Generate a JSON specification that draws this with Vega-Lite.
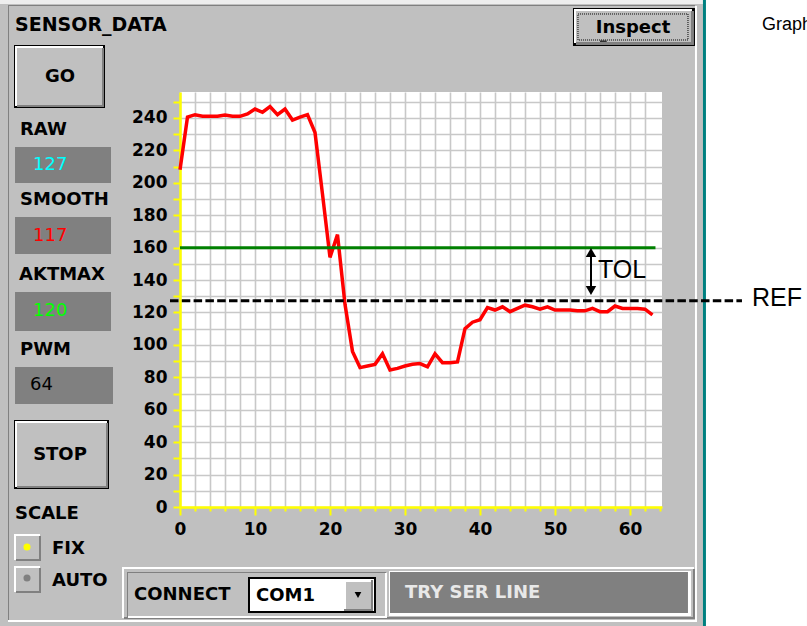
{
  "$schema": "https://vega.github.io/schema/vega-lite/v6.json",
  "width": 482,
  "height": 415,
  "autosize": {"type": "none"},
  "padding": {"left": 180, "top": 92, "right": 145, "bottom": 119},
  "background": "#c0c0c0",
  "config": {
    "view": {"fill": "#ffffff", "stroke": null}
  },
  "resolve": {"scale": {"color": "independent", "shape": "independent"}},
  "datasets": {
    "sensor": [
      {"sample": 0, "value": 208}, {"sample": 1, "value": 240.5}, {"sample": 2, "value": 242},
      {"sample": 3, "value": 241}, {"sample": 4, "value": 241}, {"sample": 5, "value": 241},
      {"sample": 6, "value": 241.8}, {"sample": 7, "value": 241}, {"sample": 8, "value": 241},
      {"sample": 9, "value": 242.5}, {"sample": 10, "value": 245.5}, {"sample": 11, "value": 243.5},
      {"sample": 12, "value": 247}, {"sample": 13, "value": 242}, {"sample": 14, "value": 245.5},
      {"sample": 15, "value": 238.7}, {"sample": 16, "value": 240.5}, {"sample": 17, "value": 242},
      {"sample": 18, "value": 231}, {"sample": 19, "value": 193}, {"sample": 20, "value": 154},
      {"sample": 21, "value": 168}, {"sample": 22, "value": 125}, {"sample": 23, "value": 96},
      {"sample": 24, "value": 86}, {"sample": 25, "value": 87}, {"sample": 26, "value": 88},
      {"sample": 27, "value": 94.5}, {"sample": 28, "value": 84.5}, {"sample": 29, "value": 85.5},
      {"sample": 30, "value": 87}, {"sample": 31, "value": 88}, {"sample": 32, "value": 88.5},
      {"sample": 33, "value": 86.5}, {"sample": 34, "value": 94.5}, {"sample": 35, "value": 89},
      {"sample": 36, "value": 89}, {"sample": 37, "value": 89.5}, {"sample": 38, "value": 110},
      {"sample": 39, "value": 114}, {"sample": 40, "value": 115.5}, {"sample": 41, "value": 123},
      {"sample": 42, "value": 121.5}, {"sample": 43, "value": 123.5}, {"sample": 44, "value": 120.5},
      {"sample": 45, "value": 122.5}, {"sample": 46, "value": 124.5}, {"sample": 47, "value": 123.5},
      {"sample": 48, "value": 122}, {"sample": 49, "value": 123.5}, {"sample": 50, "value": 121.5},
      {"sample": 51, "value": 121.5}, {"sample": 52, "value": 121.5}, {"sample": 53, "value": 121},
      {"sample": 54, "value": 121}, {"sample": 55, "value": 122.5}, {"sample": 56, "value": 120.5},
      {"sample": 57, "value": 120.5}, {"sample": 58, "value": 124}, {"sample": 59, "value": 122.5},
      {"sample": 60, "value": 122.5}, {"sample": 61, "value": 122.5}, {"sample": 62, "value": 122},
      {"sample": 63, "value": 118.5}
    ],
    "panels": [
      {"x": -24, "x2": 69.733, "y": 312.75, "y2": 310.28, "part": "light"},
      {"x": 69.733, "x2": 70.133, "y": 312.75, "y2": -73.41, "part": "teal"},
      {"x": 70.133, "x2": 83.6, "y": 312.75, "y2": -73.41, "part": "white"},
      {"x": -22.933, "x2": -22.8, "y": 309.05, "y2": -70.32, "part": "shadow"},
      {"x": -22.933, "x2": 68.667, "y": 309.67, "y2": 309.05, "part": "shadow"},
      {"x": 68.667, "x2": 68.933, "y": 309.05, "y2": -70.94, "part": "white"},
      {"x": -22.933, "x2": 68.933, "y": -69.71, "y2": -70.94, "part": "white"},
      {"x": -22.133, "x2": -10.0, "y": 285.0, "y2": 246.13, "part": "black"},
      {"x": -22.0, "x2": -10.267, "y": 284.38, "y2": 247.36, "part": "white"},
      {"x": -21.733, "x2": -10.133, "y": 283.14, "y2": 246.75, "part": "shadow"},
      {"x": -21.733, "x2": -10.4, "y": 283.14, "y2": 247.98, "part": "face"},
      {"x": -22, "x2": -9.2, "y": 222.07, "y2": 199.86, "part": "box"},
      {"x": -22, "x2": -9.2, "y": 178.89, "y2": 156.07, "part": "box"},
      {"x": -22, "x2": -9.2, "y": 132.63, "y2": 108.57, "part": "box"},
      {"x": -22, "x2": -8.933, "y": 86.36, "y2": 63.54, "part": "box"},
      {"x": -22.133, "x2": -9.467, "y": 53.67, "y2": 11.10, "part": "black"},
      {"x": -22.0, "x2": -9.733, "y": 53.05, "y2": 12.34, "part": "white"},
      {"x": -21.733, "x2": -9.6, "y": 51.82, "y2": 11.72, "part": "shadow"},
      {"x": -21.733, "x2": -9.867, "y": 51.82, "y2": 12.95, "part": "face"},
      {"x": -22.133, "x2": -18.667, "y": -16.66, "y2": -32.69, "part": "white"},
      {"x": -21.867, "x2": -18.533, "y": -17.89, "y2": -33.31, "part": "shadow"},
      {"x": -21.867, "x2": -18.8, "y": -17.89, "y2": -32.08, "part": "face"},
      {"x": -22.133, "x2": -18.667, "y": -36.40, "y2": -52.43, "part": "white"},
      {"x": -21.867, "x2": -18.533, "y": -37.63, "y2": -53.05, "part": "shadow"},
      {"x": -21.867, "x2": -18.8, "y": -37.63, "y2": -51.82, "part": "face"},
      {"x": -7.733, "x2": 68.533, "y": -37.01, "y2": -68.47, "part": "white"},
      {"x": -7.467, "x2": 68.667, "y": -38.25, "y2": -69.09, "part": "shadow"},
      {"x": -7.467, "x2": 68.4, "y": -38.25, "y2": -67.85, "part": "face"},
      {"x": -7.067, "x2": 27.467, "y": -40.10, "y2": -67.85, "part": "shadow"},
      {"x": -6.933, "x2": 27.6, "y": -40.71, "y2": -68.47, "part": "white"},
      {"x": -6.933, "x2": 27.333, "y": -40.71, "y2": -67.24, "part": "face"},
      {"x": 27.867, "x2": 68.133, "y": -39.48, "y2": -67.24, "part": "white"},
      {"x": 28.0, "x2": 67.733, "y": -40.10, "y2": -65.39, "part": "box"},
      {"x": 9.067, "x2": 26.133, "y": -43.18, "y2": -65.39, "part": "black"},
      {"x": 9.333, "x2": 25.867, "y": -44.41, "y2": -64.15, "part": "white"},
      {"x": 21.867, "x2": 25.733, "y": -45.03, "y2": -64.15, "part": "shadow"},
      {"x": 21.867, "x2": 25.467, "y": -45.03, "y2": -62.92, "part": "white"},
      {"x": 22.133, "x2": 25.467, "y": -46.26, "y2": -62.92, "part": "face"},
      {"x": 52.4, "x2": 68.667, "y": 307.82, "y2": 284.38, "part": "black"},
      {"x": 52.533, "x2": 68.267, "y": 307.2, "y2": 286.23, "part": "white"},
      {"x": 52.8, "x2": 68.533, "y": 305.97, "y2": 285.0, "part": "shadow"},
      {"x": 52.8, "x2": 68.133, "y": 305.97, "y2": 286.85, "part": "face"},
      {"x": 56.0, "x2": 56.9, "y": 287.7, "y2": 287.0, "part": "black"}
    ],
    "focus": [{"x": 53.067, "x2": 67.733, "y": 304.12, "y2": 288.08}],
    "tol": [{"x": 0, "x2": 63.4, "y": 160}],
    "ref": [{"x": -1.333, "x2": 74.933, "y": 127.3}],
    "shaft": [{"x": 54.8, "y": 158.53, "y2": 132.63}],
    "markers": [
      {"x": 54.8, "y": 157.0, "kind": "up"},
      {"x": 54.8, "y": 133.55, "kind": "down"}
    ],
    "dropdown": [{"x": 23.733, "y": -54.28}],
    "radio": [
      {"x": -20.4, "y": -24.67, "state": "on"},
      {"x": -20.4, "y": -43.8, "state": "off"}
    ],
    "texts": [
      {"label": "SENSOR_DATA", "x": -22, "y": 297.33, "group": "title"},
      {"label": "RAW", "x": -21.333, "y": 232.56, "group": "lbl"},
      {"label": "SMOOTH", "x": -21.333, "y": 189.38, "group": "lbl"},
      {"label": "AKTMAX", "x": -21.467, "y": 143.11, "group": "lbl"},
      {"label": "PWM", "x": -21.333, "y": 96.85, "group": "lbl"},
      {"label": "SCALE", "x": -22, "y": -4.32, "group": "lbl"},
      {"label": "FIX", "x": -17.067, "y": -25.91, "group": "lbl"},
      {"label": "AUTO", "x": -17.067, "y": -45.65, "group": "lbl"},
      {"label": "CONNECT", "x": -6.133, "y": -54.28, "group": "lbl"},
      {"label": "COM1", "x": 10.133, "y": -54.9, "group": "lbl"},
      {"label": "GO", "x": -16, "y": 265.25, "group": "btn"},
      {"label": "STOP", "x": -16, "y": 32.08, "group": "btn"},
      {"label": "Inspect", "x": 60.4, "y": 295.48, "group": "btn"},
      {"label": "TRY SER LINE", "x": 30, "y": -53.05, "group": "status"},
      {"label": "TOL", "x": 55.733, "y": 146.2, "group": "ann"},
      {"label": "REF", "x": 76.267, "y": 128.92, "group": "ann"},
      {"label": "Graph", "x": 77.6, "y": 297.33, "group": "graph"}
    ],
    "values": [
      {"label": "127", "x": -19.6, "y": 210.97, "tone": "raw"},
      {"label": "117", "x": -19.6, "y": 167.17, "tone": "smooth"},
      {"label": "120", "x": -19.6, "y": 120.91, "tone": "aktmax"},
      {"label": "64", "x": -20, "y": 75.26, "tone": "pwm"}
    ]
  },
  "layer": [
    {
      "data": {"name": "sensor"},
      "mark": {"type": "line", "color": "#ff0000", "strokeWidth": 3.5},
      "encoding": {
        "x": {
          "field": "sample", "type": "quantitative", "scale": {"domain": [0, 64.27]}, "title": null,
          "axis": {
            "tickCount": 32,
            "grid": true, "gridColor": "#c8c8c8", "gridWidth": 1.6,
            "gridOpacity": {"condition": {"test": "datum.value > 63", "value": 0}, "value": 1},
            "domainColor": "#ffff00", "domainWidth": 2.5,
            "tickColor": "#ffff00", "tickWidth": 2,
            "tickSize": {"condition": {"test": "datum.value % 10 === 0", "value": 8}, "value": 4},
            "labelExpr": "datum.value % 10 === 0 ? datum.label : ''",
            "labelFont": "DejaVu Sans", "labelFontSize": 17, "labelFontWeight": "bold", "labelColor": "#000000",
            "labelPadding": 6, "labelFlush": false, "labelOverlap": false
          }
        },
        "y": {
          "field": "value", "type": "quantitative", "scale": {"domain": [0, 256]}, "title": null,
          "axis": {
            "tickCount": 26,
            "grid": true, "gridColor": "#c8c8c8", "gridWidth": 1.6,
            "domainColor": "#ffff00", "domainWidth": 2.5,
            "tickColor": "#ffff00", "tickWidth": 2, "tickSize": 7,
            "labelExpr": "datum.value % 20 === 0 ? datum.label : ''",
            "labelFont": "DejaVu Sans", "labelFontSize": 17, "labelFontWeight": "bold", "labelColor": "#000000",
            "labelPadding": 6, "labelFlush": false, "labelOverlap": false
          }
        }
      }
    },
    {
      "data": {"name": "panels"},
      "mark": {"type": "rect"},
      "encoding": {
        "x": {"field": "x", "type": "quantitative", "scale": {"domain": [0, 64.27]}, "title": null},
        "x2": {"field": "x2"},
        "y": {"field": "y", "type": "quantitative", "scale": {"domain": [0, 256]}, "title": null},
        "y2": {"field": "y2"},
        "color": {
          "field": "part", "type": "nominal", "legend": null,
          "scale": {
            "domain": ["light", "teal", "white", "black", "shadow", "face", "box"],
            "range": ["#eeeeee", "#008080", "#ffffff", "#000000", "#808080", "#c0c0c0", "#808080"]
          }
        }
      }
    },
    {
      "data": {"name": "focus"},
      "mark": {"type": "rect", "fill": null, "fillOpacity": 0, "stroke": "#000000", "strokeWidth": 1, "strokeDash": [1, 1]},
      "encoding": {
        "x": {"field": "x", "type": "quantitative", "scale": {"domain": [0, 64.27]}, "title": null},
        "x2": {"field": "x2"},
        "y": {"field": "y", "type": "quantitative", "scale": {"domain": [0, 256]}, "title": null},
        "y2": {"field": "y2"}
      }
    },
    {
      "data": {"name": "tol"},
      "mark": {"type": "rule", "color": "#008000", "strokeWidth": 3},
      "encoding": {
        "x": {"field": "x", "type": "quantitative", "scale": {"domain": [0, 64.27]}, "title": null},
        "x2": {"field": "x2"},
        "y": {"field": "y", "type": "quantitative", "scale": {"domain": [0, 256]}, "title": null}
      }
    },
    {
      "data": {"name": "ref"},
      "mark": {"type": "rule", "color": "#000000", "strokeWidth": 3, "strokeDash": [8.5, 3.3]},
      "encoding": {
        "x": {"field": "x", "type": "quantitative", "scale": {"domain": [0, 64.27]}, "title": null},
        "x2": {"field": "x2"},
        "y": {"field": "y", "type": "quantitative", "scale": {"domain": [0, 256]}, "title": null}
      }
    },
    {
      "data": {"name": "shaft"},
      "mark": {"type": "rule", "color": "#000000", "strokeWidth": 2},
      "encoding": {
        "x": {"field": "x", "type": "quantitative", "scale": {"domain": [0, 64.27]}, "title": null},
        "y": {"field": "y", "type": "quantitative", "scale": {"domain": [0, 256]}, "title": null},
        "y2": {"field": "y2"}
      }
    },
    {
      "data": {"name": "markers"},
      "mark": {"type": "point", "filled": true, "color": "#000000", "size": 110, "opacity": 1},
      "encoding": {
        "x": {"field": "x", "type": "quantitative", "scale": {"domain": [0, 64.27]}, "title": null},
        "y": {"field": "y", "type": "quantitative", "scale": {"domain": [0, 256]}, "title": null},
        "shape": {"field": "kind", "type": "nominal", "legend": null, "scale": {"domain": ["up", "down"], "range": ["triangle-up", "triangle-down"]}}
      }
    },
    {
      "data": {"name": "dropdown"},
      "mark": {"type": "point", "filled": true, "color": "#000000", "size": 45, "shape": "triangle-down", "opacity": 1},
      "encoding": {
        "x": {"field": "x", "type": "quantitative", "scale": {"domain": [0, 64.27]}, "title": null},
        "y": {"field": "y", "type": "quantitative", "scale": {"domain": [0, 256]}, "title": null}
      }
    },
    {
      "data": {"name": "radio"},
      "mark": {"type": "point", "filled": true, "size": 50, "shape": "circle", "opacity": 1},
      "encoding": {
        "x": {"field": "x", "type": "quantitative", "scale": {"domain": [0, 64.27]}, "title": null},
        "y": {"field": "y", "type": "quantitative", "scale": {"domain": [0, 256]}, "title": null},
        "color": {"field": "state", "type": "nominal", "legend": null, "scale": {"domain": ["on", "off"], "range": ["#ffff00", "#808080"]}}
      }
    },
    {
      "data": {"name": "texts"},
      "transform": [{"filter": "datum.group === 'title'"}],
      "mark": {"type": "text", "align": "left", "baseline": "middle", "font": "DejaVu Sans", "fontWeight": "bold", "fontSize": 19, "color": "#000000"},
      "encoding": {
        "x": {"field": "x", "type": "quantitative", "scale": {"domain": [0, 64.27]}, "title": null},
        "y": {"field": "y", "type": "quantitative", "scale": {"domain": [0, 256]}, "title": null},
        "text": {"field": "label"}
      }
    },
    {
      "data": {"name": "texts"},
      "transform": [{"filter": "datum.group === 'lbl'"}],
      "mark": {"type": "text", "align": "left", "baseline": "middle", "font": "DejaVu Sans", "fontWeight": "bold", "fontSize": 18, "color": "#000000"},
      "encoding": {
        "x": {"field": "x", "type": "quantitative", "scale": {"domain": [0, 64.27]}, "title": null},
        "y": {"field": "y", "type": "quantitative", "scale": {"domain": [0, 256]}, "title": null},
        "text": {"field": "label"}
      }
    },
    {
      "data": {"name": "texts"},
      "transform": [{"filter": "datum.group === 'btn'"}],
      "mark": {"type": "text", "align": "center", "baseline": "middle", "font": "DejaVu Sans", "fontWeight": "bold", "fontSize": 18, "color": "#000000"},
      "encoding": {
        "x": {"field": "x", "type": "quantitative", "scale": {"domain": [0, 64.27]}, "title": null},
        "y": {"field": "y", "type": "quantitative", "scale": {"domain": [0, 256]}, "title": null},
        "text": {"field": "label"}
      }
    },
    {
      "data": {"name": "texts"},
      "transform": [{"filter": "datum.group === 'status'"}],
      "mark": {"type": "text", "align": "left", "baseline": "middle", "font": "DejaVu Sans", "fontWeight": "bold", "fontSize": 18, "color": "#e8e8e8"},
      "encoding": {
        "x": {"field": "x", "type": "quantitative", "scale": {"domain": [0, 64.27]}, "title": null},
        "y": {"field": "y", "type": "quantitative", "scale": {"domain": [0, 256]}, "title": null},
        "text": {"field": "label"}
      }
    },
    {
      "data": {"name": "texts"},
      "transform": [{"filter": "datum.group === 'ann'"}],
      "mark": {"type": "text", "align": "left", "baseline": "middle", "font": "Liberation Sans", "fontSize": 25, "color": "#000000"},
      "encoding": {
        "x": {"field": "x", "type": "quantitative", "scale": {"domain": [0, 64.27]}, "title": null},
        "y": {"field": "y", "type": "quantitative", "scale": {"domain": [0, 256]}, "title": null},
        "text": {"field": "label"}
      }
    },
    {
      "data": {"name": "texts"},
      "transform": [{"filter": "datum.group === 'graph'"}],
      "mark": {"type": "text", "align": "left", "baseline": "middle", "font": "Liberation Sans", "fontSize": 18, "color": "#000000"},
      "encoding": {
        "x": {"field": "x", "type": "quantitative", "scale": {"domain": [0, 64.27]}, "title": null},
        "y": {"field": "y", "type": "quantitative", "scale": {"domain": [0, 256]}, "title": null},
        "text": {"field": "label"}
      }
    },
    {
      "data": {"name": "values"},
      "mark": {"type": "text", "align": "left", "baseline": "middle", "font": "DejaVu Sans", "fontSize": 18},
      "encoding": {
        "x": {"field": "x", "type": "quantitative", "scale": {"domain": [0, 64.27]}, "title": null},
        "y": {"field": "y", "type": "quantitative", "scale": {"domain": [0, 256]}, "title": null},
        "text": {"field": "label"},
        "color": {"field": "tone", "type": "nominal", "legend": null, "scale": {"domain": ["raw", "smooth", "aktmax", "pwm"], "range": ["#00ffff", "#ff0000", "#00ff00", "#000000"]}}
      }
    }
  ]
}
